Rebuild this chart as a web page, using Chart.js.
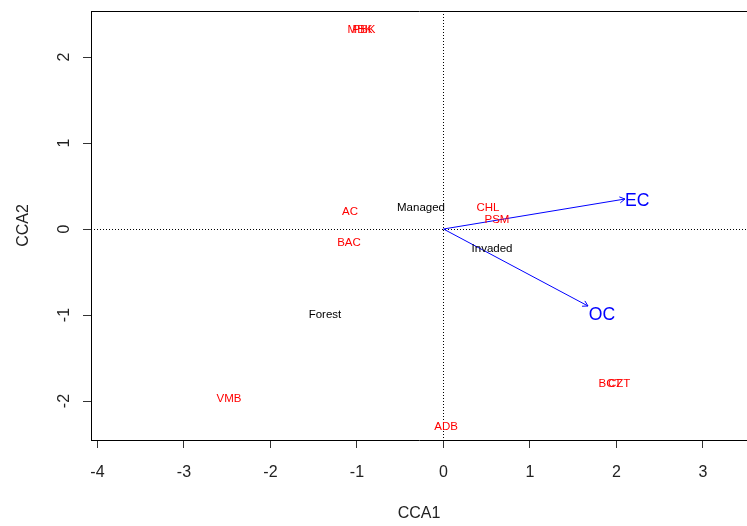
<!DOCTYPE html>
<html>
<head>
<meta charset="utf-8">
<script src="https://cdn.jsdelivr.net/npm/chart.js@4"></script>
<style>
  html, body { margin: 0; padding: 0; background: #ffffff; overflow: hidden; }
  #wrap { width: 747px; height: 526px; }
</style>
</head>
<body>
<div id="wrap"><canvas id="c" width="747" height="526"></canvas></div>
<script>
// Species scores (red labels)
const speciesNames = ["MBK", "PBK", "AC", "BAC", "CHL", "PSM", "VMB", "ADB", "BCT", "CZT"];
const speciesCCA1  = [-0.965, -0.919, -1.081, -1.092, 0.514, 0.618, -2.48, 0.03, 1.925, 2.03];
const speciesCCA2  = [2.326, 2.326, 0.209, -0.151, 0.256, 0.116, -1.965, -2.29, -1.79, -1.79];

// Site / group centroids (black labels)
const siteNames = ["Managed", "Invaded", "Forest"];
const siteCCA1  = [-0.26, 0.561, -1.37];
const siteCCA2  = [0.256, -0.221, -0.988];

// Environmental vectors (blue arrows) and their label anchors
const envNames     = ["EC", "OC"];
const envCCA1      = [2.098, 1.671];
const envCCA2      = [0.349, -0.895];
const envLabelCCA1 = [2.24, 1.832];
const envLabelCCA2 = [0.337, -0.99];

// Axis ticks
const xTicks = [-4, -3, -2, -1, 0, 1, 2, 3];
const xTickLabels = ["-4", "-3", "-2", "-1", "0", "1", "2", "3"];
const yTicks = [-2, -1, 0, 1, 2];
const yTickLabels = ["-2", "-1", "0", "1", "2"];

const FONT = '"Liberation Sans", Arial, Helvetica, sans-serif';

function labelled(names, xs, ys) {
  return names.map((n, i) => ({ x: xs[i], y: ys[i], name: n }));
}

const datasets = [
  { label: "species", data: labelled(speciesNames, speciesCCA1, speciesCCA2),
    pointRadius: 0, textColor: "#ff0000", textSize: 11.5 },
  { label: "sites", data: labelled(siteNames, siteCCA1, siteCCA2),
    pointRadius: 0, textColor: "#000000", textSize: 11.5 },
  { label: "envLabels", data: labelled(envNames, envLabelCCA1, envLabelCCA2),
    pointRadius: 0, textColor: "#0000ff", textSize: 17.6 }
];
envNames.forEach((n, i) => {
  datasets.push({
    type: "line", label: n, arrow: true,
    data: [{ x: 0, y: 0 }, { x: envCCA1[i], y: envCCA2[i] }],
    borderColor: "#0000ff", borderWidth: 1, pointRadius: 0, fill: false, tension: 0
  });
});

// Dotted zero lines and top frame edge
const framePlugin = {
  id: "frame",
  beforeDatasetsDraw(chart) {
    const { ctx, chartArea: a, scales: { x, y } } = chart;
    const x0 = Math.round(x.getPixelForValue(0)) + 0.5;
    const y0 = Math.round(y.getPixelForValue(0)) + 0.5;
    ctx.save();
    ctx.strokeStyle = "#000";
    ctx.lineWidth = 1;
    ctx.setLineDash([1, 2]);
    ctx.beginPath();
    ctx.moveTo(x0, a.top); ctx.lineTo(x0, a.bottom);
    ctx.moveTo(a.left, y0); ctx.lineTo(a.right, y0);
    ctx.stroke();
    ctx.setLineDash([]);
    ctx.beginPath();
    const t = Math.round(a.top) + 0.5;
    ctx.moveTo(a.left, t); ctx.lineTo(a.right + 1, t);
    ctx.stroke();
    ctx.restore();
  }
};

// Text labels at points, and arrowheads on vector lines
const labelPlugin = {
  id: "labels",
  afterDatasetsDraw(chart) {
    const ctx = chart.ctx;
    ctx.save();
    chart.data.datasets.forEach((ds, i) => {
      const meta = chart.getDatasetMeta(i);
      if (ds.arrow) {
        const p0 = meta.data[0], p1 = meta.data[1];
        const ang = Math.atan2(p1.y - p0.y, p1.x - p0.x);
        const len = 6, spread = Math.PI / 6;
        ctx.strokeStyle = ds.borderColor;
        ctx.lineWidth = 1;
        ctx.beginPath();
        ctx.moveTo(p1.x - len * Math.cos(ang - spread), p1.y - len * Math.sin(ang - spread));
        ctx.lineTo(p1.x, p1.y);
        ctx.lineTo(p1.x - len * Math.cos(ang + spread), p1.y - len * Math.sin(ang + spread));
        ctx.stroke();
      } else if (ds.textColor) {
        ctx.fillStyle = ds.textColor;
        ctx.font = ds.textSize + "px " + FONT;
        ctx.textAlign = "center";
        ctx.textBaseline = "middle";
        meta.data.forEach((el, j) => {
          // centre on the capitals rather than the em box
          ctx.fillText(ds.data[j].name, el.x, el.y + 1);
        });
      }
    });
    ctx.restore();
  }
};

function noEdgePadding(s) {
  s.paddingTop = 0; s.paddingBottom = 0; s.paddingLeft = 0; s.paddingRight = 0;
}

new Chart(document.getElementById("c"), {
  type: "scatter",
  data: { datasets },
  options: {
    responsive: false,
    animation: false,
    devicePixelRatio: 1,
    layout: { padding: { top: 11, left: 0, right: 0, bottom: 0 } },
    plugins: { legend: { display: false }, tooltip: { enabled: false } },
    scales: {
      x: {
        type: "linear",
        min: -4.075,
        max: 3.509,
        afterBuildTicks: s => { s.ticks = xTicks.map(v => ({ value: v })); },
        afterFit: s => { s.height = 86; noEdgePadding(s); },
        grid: { drawOnChartArea: false, drawTicks: true, tickLength: 8, color: "#333" },
        border: { display: true, color: "#000" },
        ticks: {
          font: { family: FONT, size: 16 }, color: "#222", padding: 15,
          maxRotation: 0, autoSkip: false,
          callback: v => xTickLabels[xTicks.indexOf(v)]
        },
        title: { display: true, text: "CCA1", font: { family: FONT, size: 16 }, color: "#222",
                 padding: { top: 0, bottom: 3 } }
      },
      y: {
        type: "linear",
        min: -2.453,
        max: 2.535,
        afterBuildTicks: s => { s.ticks = yTicks.map(v => ({ value: v })); },
        afterFit: s => { s.width = 91; noEdgePadding(s); },
        grid: { drawOnChartArea: false, drawTicks: true, tickLength: 8, color: "#333" },
        border: { display: true, color: "#000" },
        ticks: {
          font: { family: FONT, size: 16 }, color: "#222", padding: 11,
          minRotation: 90, maxRotation: 90, crossAlign: "center", autoSkip: false,
          callback: v => yTickLabels[yTicks.indexOf(v)]
        },
        title: { display: true, text: "CCA2", font: { family: FONT, size: 16 }, color: "#222",
                 padding: { top: 14, bottom: 0 } }
      }
    }
  },
  plugins: [framePlugin, labelPlugin]
});
</script>
</body>
</html>
